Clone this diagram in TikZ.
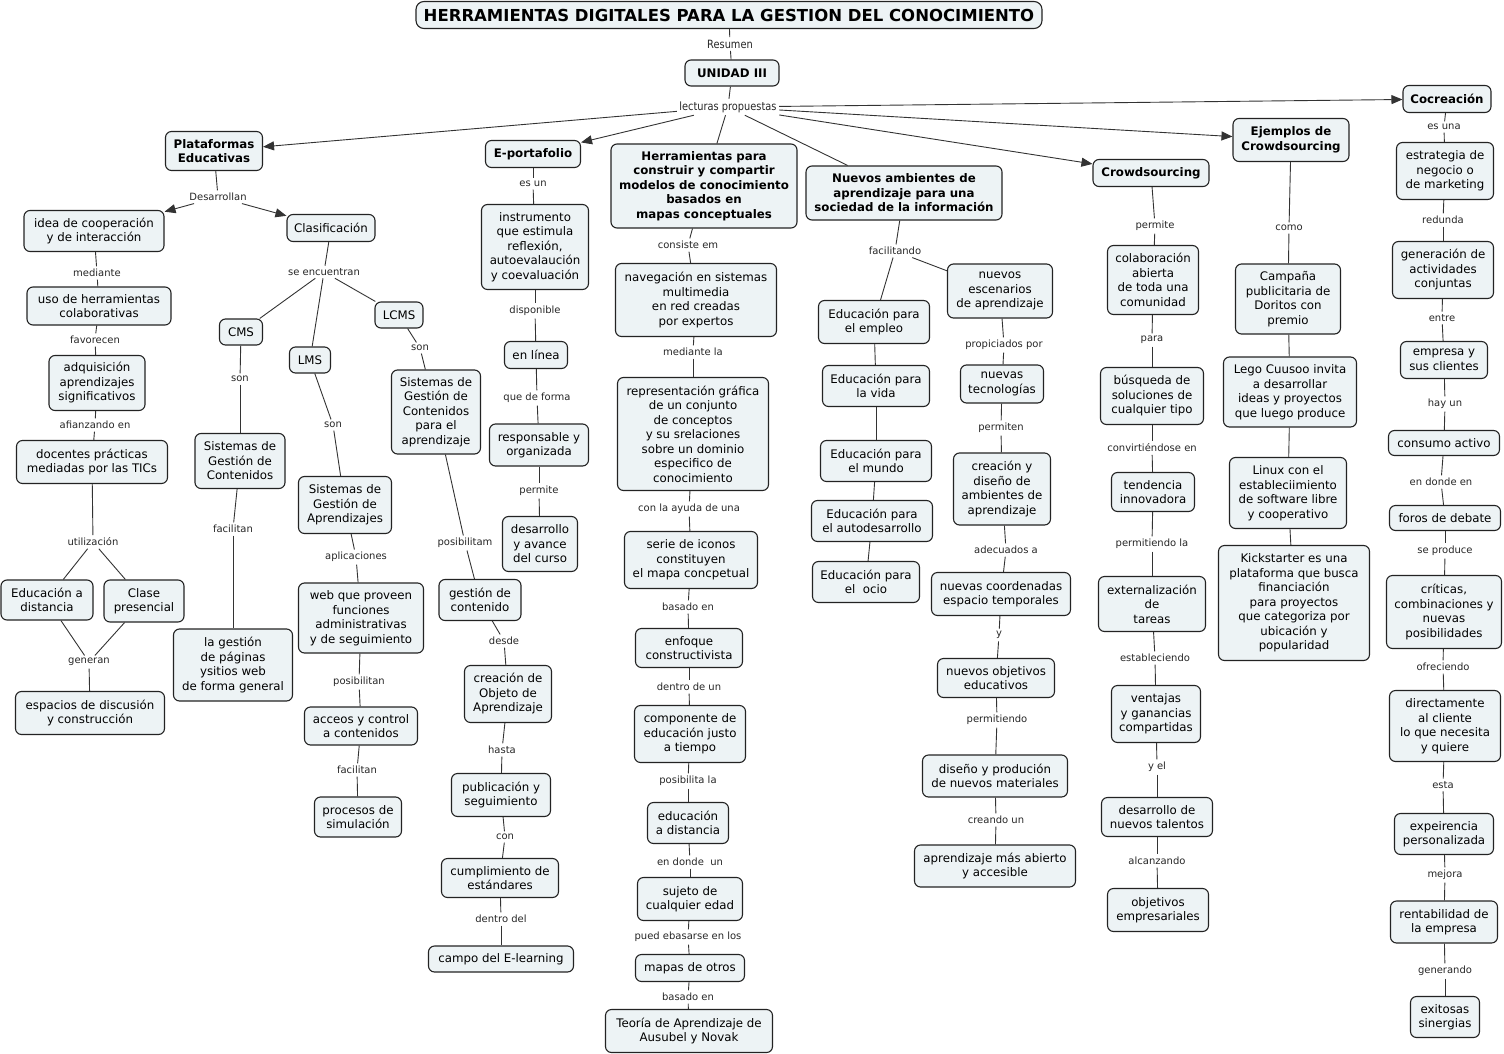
\documentclass[tikz,border=0pt]{standalone}
\usepackage{fontspec}
\setmainfont{DejaVu Sans}
\newfontfamily\condf[FakeStretch=0.86]{DejaVu Sans}
\usetikzlibrary{arrows.meta}
\definecolor{cfill}{RGB}{237,243,245}
\definecolor{cline}{RGB}{35,35,35}
\tikzset{
  cpt/.style={draw=cline, fill=cfill, rounded corners=6pt, line width=1.1pt, align=center,
    inner xsep=3pt, inner ysep=2pt, font=\fontsize{11.8}{14.5}\selectfont},
  bcpt/.style={cpt, font=\fontsize{11.8}{14.5}\selectfont\bfseries},
  lbl/.style={inner sep=2.5pt, font=\fontsize{10}{12}\selectfont, text=black!85},
  clbl/.style={inner sep=2.5pt, font=\condf\fontsize{11.4}{13}\selectfont, text=black!85},
  con/.style={draw=black!80, line width=0.9pt},
  arr/.style={con, -{Triangle[length=11pt,width=9pt]}},
}
\newcommand\cn[7]{\node[#1,minimum width=#5pt,minimum height=#6pt] (#2) at (#3,#4) {#7};}
\newcommand\lb[4]{\node[lbl] (#1) at (#2,#3) {#4};}
\newcommand\chain[1]{\foreach \p/\q in {#1} {\draw[con] (\p) -- (\q);}}
\begin{document}
\begin{tikzpicture}[x=1pt,y=-1pt]
\useasboundingbox (0,0) rectangle (1504,1054);
% top
\node[cpt, rounded corners=8pt, minimum width=626pt, minimum height=27pt,
  font=\bfseries\fontsize{16.5}{20}\selectfont] (T) at (729,15)
  {HERRAMIENTAS DIGITALES PARA LA GESTION DEL CONOCIMIENTO};
\node[clbl] (res) at (730,44) {Resumen};
\cn{bcpt}{U}{732}{73}{94}{26}{UNIDAD III}
\node[clbl] (lp) at (728,107) {lecturas propuestas};
% level 1
\cn{bcpt}{PE}{214}{151}{97}{39}{Plataformas\\Educativas}
\cn{bcpt}{EP}{533}{154}{95}{27}{E-portafolio}
\cn{bcpt}{HC}{704}{186}{186}{84}{Herramientas para\\construir y compartir\\modelos de conocimiento\\basados en\\mapas conceptuales}
\cn{bcpt}{NA}{904}{193}{196}{54}{Nuevos ambientes de\\aprendizaje para una\\sociedad de la información}
\cn{bcpt}{CR}{1151}{173}{116}{27}{Crowdsourcing}
\cn{bcpt}{EJ}{1291}{140}{116}{43}{Ejemplos de\\Crowdsourcing}
\cn{bcpt}{CO}{1447}{99}{88}{27}{Cocreación}
% Plataformas branch
\lb{des}{218}{197}{Desarrollan}
\cn{cpt}{idea}{94}{231}{140}{41}{idea de cooperación\\ y de interacción}
\cn{cpt}{clas}{331}{228}{88}{27}{Clasificación}
\lb{med}{97}{273}{mediante}
\cn{cpt}{uso}{99}{306}{144}{38}{uso de herramientas\\ colaborativas}
\lb{fav}{95}{340}{favorecen}
\cn{cpt}{adq}{97}{383}{96}{55}{adquisición\\ aprendizajes\\significativos}
\lb{afi}{95}{425}{afianzando en}
\cn{cpt}{doc}{92}{462}{151}{43}{docentes prácticas\\mediadas por las TICs}
\lb{uti}{93}{542}{utilización}
\cn{cpt}{eda}{47}{600}{92}{40}{Educación a\\distancia}
\cn{cpt}{cp}{144}{601}{80}{42}{Clase\\presencial}
\lb{gen}{89}{662}{generan}
\cn{cpt}{esp}{90}{713}{149}{43}{espacios de discusión\\ y construcción}
\lb{se}{324}{272}{se encuentran}
\cn{cpt}{cms}{241}{332}{43}{26}{CMS}
\cn{cpt}{lms}{310}{360}{41}{26}{LMS}
\cn{cpt}{lcms}{399}{315}{48}{26}{LCMS}
\lb{son1}{240}{379}{son}
\cn{cpt}{sgc}{240}{461}{90}{55}{Sistemas de\\Gestión de\\Contenidos}
\lb{fac1}{233}{529}{facilitan}
\cn{cpt}{lag}{233}{665}{119}{72}{la gestión\\ de páginas\\ysitios web\\de forma general}
\lb{son2}{333}{425}{son}
\cn{cpt}{sga}{345}{505}{93}{57}{Sistemas de\\Gestión de\\Aprendizajes}
\lb{apl}{356}{557}{aplicaciones}
\cn{cpt}{web}{361}{618}{125}{70}{web que proveen\\ funciones\\ administrativas\\y de seguimiento}
\lb{pos1}{359}{682}{posibilitan}
\cn{cpt}{acc}{361}{726}{113}{38}{acceos y control\\a contenidos}
\lb{fac2}{357}{770}{facilitan}
\cn{cpt}{proc}{358}{817}{87}{40}{procesos de\\simulación}
\lb{son3}{420}{348}{son}
\cn{cpt}{sgca}{436}{412}{89}{84}{Sistemas de\\Gestión de\\Contenidos\\para el\\aprendizaje}
\lb{pos2}{465}{543}{posibilitam}
\cn{cpt}{gdc}{480}{600}{82}{41}{gestión de\\ contenido}
\lb{desde}{504}{641}{desde}
\cn{cpt}{cre}{508}{694}{87}{57}{creación de\\Objeto de\\Aprendizaje}
\lb{hasta}{502}{750}{hasta}
\cn{cpt}{pub}{501}{795}{99}{43}{publicación y\\ seguimiento}
\lb{con}{505}{837}{con}
\cn{cpt}{cum}{500}{878}{117}{39}{cumplimiento de\\estándares}
\lb{dd}{501}{919}{dentro del}
\cn{cpt}{campo}{501}{959}{145}{26}{campo del E-learning}
% E-portafolio
\lb{esun}{533}{184}{es un}
\cn{cpt}{inst}{535}{247}{107}{85}{instrumento\\ que estimula\\reflexión,\\autoevalaución\\y coevaluación}
\lb{disp}{535}{311}{disponible}
\cn{cpt}{enl}{536}{355}{63}{27}{en línea}
\lb{qdf}{537}{398}{que de forma}
\cn{cpt}{resp}{539}{445}{99}{42}{responsable y\\organizada}
\lb{perm1}{539}{491}{permite}
\cn{cpt}{desa}{540}{544}{75}{55}{desarrollo\\y avance\\del curso}
% Herramientas
\lb{cons}{688}{245}{consiste em}
\cn{cpt}{nav}{696}{300}{161}{73}{navegación en sistemas\\multimedia\\en red creadas\\ por expertos}
\lb{medl}{693}{352}{mediante la}
\cn{cpt}{rep}{693}{434}{151}{113}{representación gráfica\\de un conjunto\\de conceptos\\y su srelaciones\\sobre un dominio\\especifico de\\ conocimiento}
\lb{cla}{689}{509}{con la ayuda de una}
\cn{cpt}{ser}{691}{560}{133}{57}{serie de iconos\\constituyen\\el mapa concpetual}
\lb{bas1}{688}{607}{basado en}
\cn{cpt}{enf}{689}{648}{107}{39}{enfoque\\ constructivista}
\lb{ddu}{689}{687}{dentro de un}
\cn{cpt}{comp}{690}{734}{111}{57}{componente de\\educación justo\\a tiempo}
\lb{posl}{688}{781}{posibilita la}
\cn{cpt}{edd}{688}{823}{81}{41}{educación\\a distancia}
\lb{edu}{690}{862}{en donde\ \ un}
\cn{cpt}{suj}{690}{899}{105}{43}{sujeto de\\cualquier edad}
\lb{pued}{688}{937}{pued ebasarse en los}
\cn{cpt}{map}{690}{968}{109}{27}{mapas de otros}
\lb{bas2}{688}{997}{basado en}
\cn{cpt}{teo}{689}{1031}{167}{43}{Teoría de Aprendizaje de\\Ausubel y Novak}
% Nuevos ambientes
\lb{faci}{895}{251}{facilitando}
\cn{cpt}{emp}{874}{322}{111}{43}{Educación para\\el empleo}
\cn{cpt}{nesc}{1000}{291}{105}{54}{nuevos\\escenarios\\de aprendizaje}
\cn{cpt}{vida}{876}{386}{107}{41}{Educación para\\ la vida}
\cn{cpt}{mundo}{876}{461}{111}{41}{Educación para\\ el mundo}
\cn{cpt}{auto}{872}{521}{121}{41}{Educación para\\el autodesarrollo}
\cn{cpt}{ocio}{866}{582}{107}{41}{Educación para\\el\ \ ocio}
\lb{prop}{1004}{345}{propiciados por}
\cn{cpt}{ntec}{1002}{384}{83}{38}{nuevas\\tecnologías}
\lb{permi}{1001}{428}{permiten}
\cn{cpt}{crea}{1002}{489}{97}{72}{creación y\\ diseño de\\ambientes de\\aprendizaje}
\lb{adec}{1006}{550}{adecuados a}
\cn{cpt}{ncoor}{1001}{594}{139}{43}{nuevas coordenadas\\espacio temporales}
\lb{ylb}{999}{635}{y}
\cn{cpt}{nobj}{996}{678}{117}{39}{nuevos objetivos\\ educativos}
\lb{permt}{997}{720}{permitiendo}
\cn{cpt}{dis}{995}{776}{145}{42}{diseño y produción\\de nuevos materiales}
\lb{crean}{996}{820}{creando un}
\cn{cpt}{apr}{995}{866}{161}{42}{aprendizaje más abierto\\y accesible}
% Crowdsourcing
\lb{perm2}{1155}{226}{permite}
\cn{cpt}{colab}{1153}{280}{91}{69}{colaboración\\abierta\\de toda una\\comunidad}
\lb{para}{1152}{340}{para}
\cn{cpt}{busq}{1152}{396}{103}{57}{búsqueda de\\soluciones de\\ cualquier tipo}
\lb{conv}{1152}{448}{convirtiéndose en}
\cn{cpt}{tend}{1153}{492}{83}{39}{tendencia\\innovadora}
\lb{perml}{1152}{544}{permitiendo la}
\cn{cpt}{ext}{1152}{604}{107}{55}{externalización\\de\\tareas}
\lb{est}{1155}{658}{estableciendo}
\cn{cpt}{vent}{1156}{714}{89}{57}{ventajas\\y ganancias\\compartidas}
\lb{yel}{1157}{767}{y el}
\cn{cpt}{dnt}{1157}{817}{111}{39}{desarrollo de\\nuevos talentos}
\lb{alc}{1157}{861}{alcanzando}
\cn{cpt}{obj}{1158}{910}{101}{43}{objetivos\\empresariales}
% Ejemplos
\lb{como}{1289}{228}{como}
\cn{cpt}{camp}{1288}{299}{105}{70}{Campaña\\publicitaria de\\Doritos con\\ premio}
\cn{cpt}{lego}{1290}{392}{133}{70}{Lego Cuusoo invita\\ a desarrollar\\ideas y proyectos\\ que luego produce}
\cn{cpt}{linux}{1288}{493}{117}{71}{Linux con el\\estableciimiento\\de software libre\\ y cooperativo}
\cn{cpt}{kick}{1294}{603}{151}{115}{Kickstarter es una\\plataforma que busca\\financiación\\para proyectos\\que categoriza por\\ubicación y\\ popularidad}
% Cocreacion
\lb{esuna}{1444}{127}{es una}
\cn{cpt}{estr}{1445}{171}{97}{57}{estrategia de\\negocio o\\de marketing}
\lb{red}{1443}{220}{redunda}
\cn{cpt}{genr}{1443}{270}{101}{57}{generación de\\actividades\\conjuntas}
\lb{entre}{1442}{318}{entre}
\cn{cpt}{emp2}{1444}{360}{87}{37}{empresa y\\sus clientes}
\lb{hay}{1445}{404}{hay un}
\cn{cpt}{cons2}{1444}{443}{111}{25}{consumo activo}
\lb{edon}{1441}{482}{en donde en}
\cn{cpt}{foros}{1445}{518}{111}{25}{foros de debate}
\lb{sep}{1445}{551}{se produce}
\cn{cpt}{crit}{1444}{612}{115}{73}{críticas,\\combinaciones y\\nuevas\\posibilidades}
\lb{ofr}{1443}{667}{ofreciendo}
\cn{cpt}{dir}{1445}{726}{111}{71}{directamente\\ al cliente\\lo que necesita\\ y quiere}
\lb{esta}{1443}{785}{esta}
\cn{cpt}{expe}{1444}{834}{99}{41}{expeirencia\\personalizada}
\lb{mej}{1445}{875}{mejora}
\cn{cpt}{rent}{1444}{922}{107}{42}{rentabilidad de\\la empresa}
\lb{gnd}{1445}{971}{generando}
\cn{cpt}{exi}{1445}{1017}{69}{41}{exitosas\\sinergias}
% connectors
\chain{T/res, res/U, U/lp, lp/HC, lp/NA}
\foreach \t in {PE,EP,CR,EJ,CO} {\draw[arr] (lp) -- (\t);}
\draw[con] (PE) -- (des);
\draw[arr] (des) -- (idea);
\draw[arr] (des) -- (clas);
\chain{idea/med, med/uso, uso/fav, fav/adq, adq/afi, afi/doc, doc/uti, uti/eda, uti/cp, eda/gen, cp/gen, gen/esp}
\chain{clas/se, se/cms, se/lms, se/lcms}
\chain{cms/son1, son1/sgc, sgc/fac1, fac1/lag}
\chain{lms/son2, son2/sga, sga/apl, apl/web, web/pos1, pos1/acc, acc/fac2, fac2/proc}
\chain{lcms/son3, son3/sgca, sgca/pos2, pos2/gdc, gdc/desde, desde/cre, cre/hasta, hasta/pub, pub/con, con/cum, cum/dd, dd/campo}
\chain{EP/esun, esun/inst, inst/disp, disp/enl, enl/qdf, qdf/resp, resp/perm1, perm1/desa}
\chain{HC/cons, cons/nav, nav/medl, medl/rep, rep/cla, cla/ser, ser/bas1, bas1/enf, enf/ddu, ddu/comp, comp/posl, posl/edd, edd/edu, edu/suj, suj/pued, pued/map, map/bas2, bas2/teo}
\chain{NA/faci, faci/emp, faci/nesc, emp/vida, vida/mundo, mundo/auto, auto/ocio}
\chain{nesc/prop, prop/ntec, ntec/permi, permi/crea, crea/adec, adec/ncoor, ncoor/ylb, ylb/nobj, nobj/permt, permt/dis, dis/crean, crean/apr}
\chain{CR/perm2, perm2/colab, colab/para, para/busq, busq/conv, conv/tend, tend/perml, perml/ext, ext/est, est/vent, vent/yel, yel/dnt, dnt/alc, alc/obj}
\chain{EJ/como, como/camp, camp/lego, lego/linux, linux/kick}
\chain{CO/esuna, esuna/estr, estr/red, red/genr, genr/entre, entre/emp2, emp2/hay, hay/cons2, cons2/edon, edon/foros, foros/sep, sep/crit, crit/ofr, ofr/dir, dir/esta, esta/expe, expe/mej, mej/rent, rent/gnd, gnd/exi}
\end{tikzpicture}
\end{document}
